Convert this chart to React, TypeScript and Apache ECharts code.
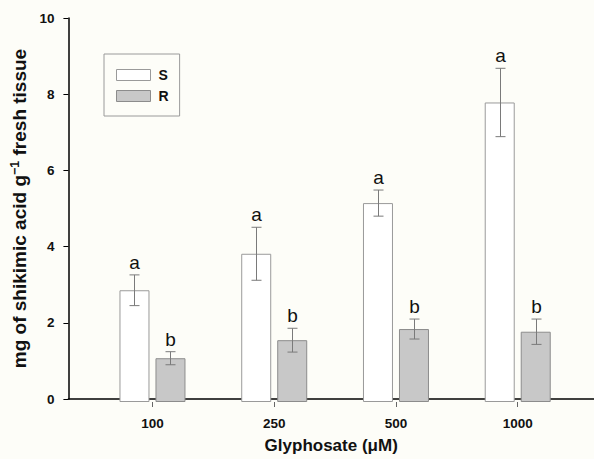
import React, { useEffect, useRef } from "react";
import * as echarts from "echarts";

const categories = ["100", "250", "500", "1000"];
const sValues = [2.91, 3.86, 5.18, 7.8];
const sErrors = [0.4, 0.69, 0.34, 0.89];
const rValues = [1.14, 1.61, 1.9, 1.83];
const rErrors = [0.17, 0.31, 0.26, 0.33];
const sLetters = ["a", "a", "a", "a"];
const rLetters = ["b", "b", "b", "b"];
const yMin = 0;
const yMax = 10;
const yInterval = 2;

const FONT = "Liberation Sans, Arial, sans-serif";

function errorSeries(name: string, values: number[], errors: number[], letters: string[], offset: number) {
  return {
    type: "custom",
    name: name + "-err",
    xAxisIndex: 1,
    yAxisIndex: 1,
    silent: true,
    z: 5,
    encode: { x: 0, y: 1 },
    data: values.map((v, i) => [i, v, errors[i]]),
    renderItem: (params: any, api: any) => {
      const idx = api.value(0);
      const v = api.value(1);
      const e = api.value(2);
      const top = api.coord([idx, v + e]);
      const bot = api.coord([idx, v - e]);
      const x = Math.round(top[0] + offset) + 0.5;
      const cap = 5;
      const stroke = { stroke: "#7a7a7a", lineWidth: 1 };
      return {
        type: "group",
        children: [
          { type: "line", shape: { x1: x, y1: top[1], x2: x, y2: bot[1] }, style: stroke },
          { type: "line", shape: { x1: x - cap, y1: top[1], x2: x + cap, y2: top[1] }, style: stroke },
          { type: "line", shape: { x1: x - cap, y1: bot[1], x2: x + cap, y2: bot[1] }, style: stroke },
          {
            type: "text",
            x: x,
            y: top[1] - 3,
            style: {
              text: letters[params.dataIndex],
              fill: "#111",
              font: "19px " + FONT,
              align: "center",
              verticalAlign: "bottom",
            },
          },
        ],
      };
    },
  };
}

export default function App() {
  const ref = useRef<HTMLDivElement>(null);
  useEffect(() => {
    document.body.style.margin = "0";
    const chart = echarts.init(ref.current!, undefined, { renderer: "svg" });
    const option: any = {
      animation: false,
      backgroundColor: "#fdfdf8",
      textStyle: { fontFamily: FONT },
      legend: {
        orient: "vertical",
        left: 104,
        top: 54,
        padding: [14, 11, 13, 12],
        itemWidth: 34,
        itemHeight: 11,
        itemGap: 7,
        borderColor: "#9a9a9a",
        borderWidth: 1,
        icon: "rect",
        textStyle: { fontFamily: FONT, fontSize: 14, fontWeight: "bold", color: "#111", padding: [0, 0, 0, 3] },
        data: [
          { name: "S", itemStyle: { color: "#ffffff", borderColor: "#9a9a9a", borderWidth: 1 } },
          { name: "R", itemStyle: { color: "#c8c8c8", borderColor: "#8c8c8c", borderWidth: 1 } },
        ],
      },
      grid: [
        { left: 68, right: 0, top: 18, bottom: 57, containLabel: false },
        { left: 91.6, right: 15.4, top: 18, bottom: 57, containLabel: false },
      ],
      xAxis: [
        {
          type: "value",
          gridIndex: 0,
          min: 0,
          max: 1,
          axisLine: { show: true, lineStyle: { color: "#000", width: 1.5 } },
          axisTick: { show: false },
          axisLabel: { show: false },
          splitLine: { show: false },
          name: "Glyphosate (\u03bcM)",
          nameLocation: "middle",
          nameGap: 38,
          nameTextStyle: { fontFamily: FONT, fontSize: 17, fontWeight: "bold", color: "#111" },
        },
        {
          type: "category",
          gridIndex: 1,
          data: categories,
          axisLine: { show: false },
          axisTick: { show: true, alignWithLabel: true, length: 5, lineStyle: { color: "#666" } },
          axisLabel: { fontFamily: FONT, fontSize: 13.5, fontWeight: "bold", color: "#111", margin: 14 },
          splitLine: { show: false },
        },
      ],
      yAxis: [
        {
          type: "value",
          gridIndex: 0,
          min: yMin,
          max: yMax,
          interval: yInterval,
          axisLine: { show: true, lineStyle: { color: "#000", width: 1.5 } },
          axisTick: { show: true, inside: false, length: 5, lineStyle: { color: "#000" } },
          axisLabel: { fontFamily: FONT, fontSize: 13.5, fontWeight: "bold", color: "#111", margin: 14 },
          splitLine: { show: false },
          name: "mg of shikimic acid g{sup|\u22121} fresh tissue",
          nameLocation: "middle",
          nameGap: 31,
          nameTextStyle: {
            fontFamily: FONT,
            fontSize: 19,
            fontWeight: "bold",
            color: "#111",
            rich: {
              sup: { fontFamily: FONT, fontSize: 12.5, fontWeight: "bold", color: "#111", verticalAlign: "top", padding: [0, 0, 9, 0] },
            },
          },
        },
        {
          type: "value",
          gridIndex: 1,
          min: yMin,
          max: yMax,
          interval: yInterval,
          show: false,
        },
      ],
      series: [
        {
          type: "bar",
          name: "S",
          xAxisIndex: 1,
          yAxisIndex: 1,
          barWidth: 30,
          barGap: "20%",
          data: sValues,
          itemStyle: { color: "#ffffff", borderColor: "#9a9a9a", borderWidth: 1 },
        },
        {
          type: "bar",
          name: "R",
          xAxisIndex: 1,
          yAxisIndex: 1,
          barWidth: 30,
          barGap: "20%",
          data: rValues,
          itemStyle: { color: "#c8c8c8", borderColor: "#8c8c8c", borderWidth: 1 },
        },
        errorSeries("S", sValues, sErrors, sLetters, -18),
        errorSeries("R", rValues, rErrors, rLetters, 18),
      ],
    };
    chart.setOption(option);
    return () => chart.dispose();
  }, []);
  return <div ref={ref} style={{ width: 594, height: 459 }} />;
}
